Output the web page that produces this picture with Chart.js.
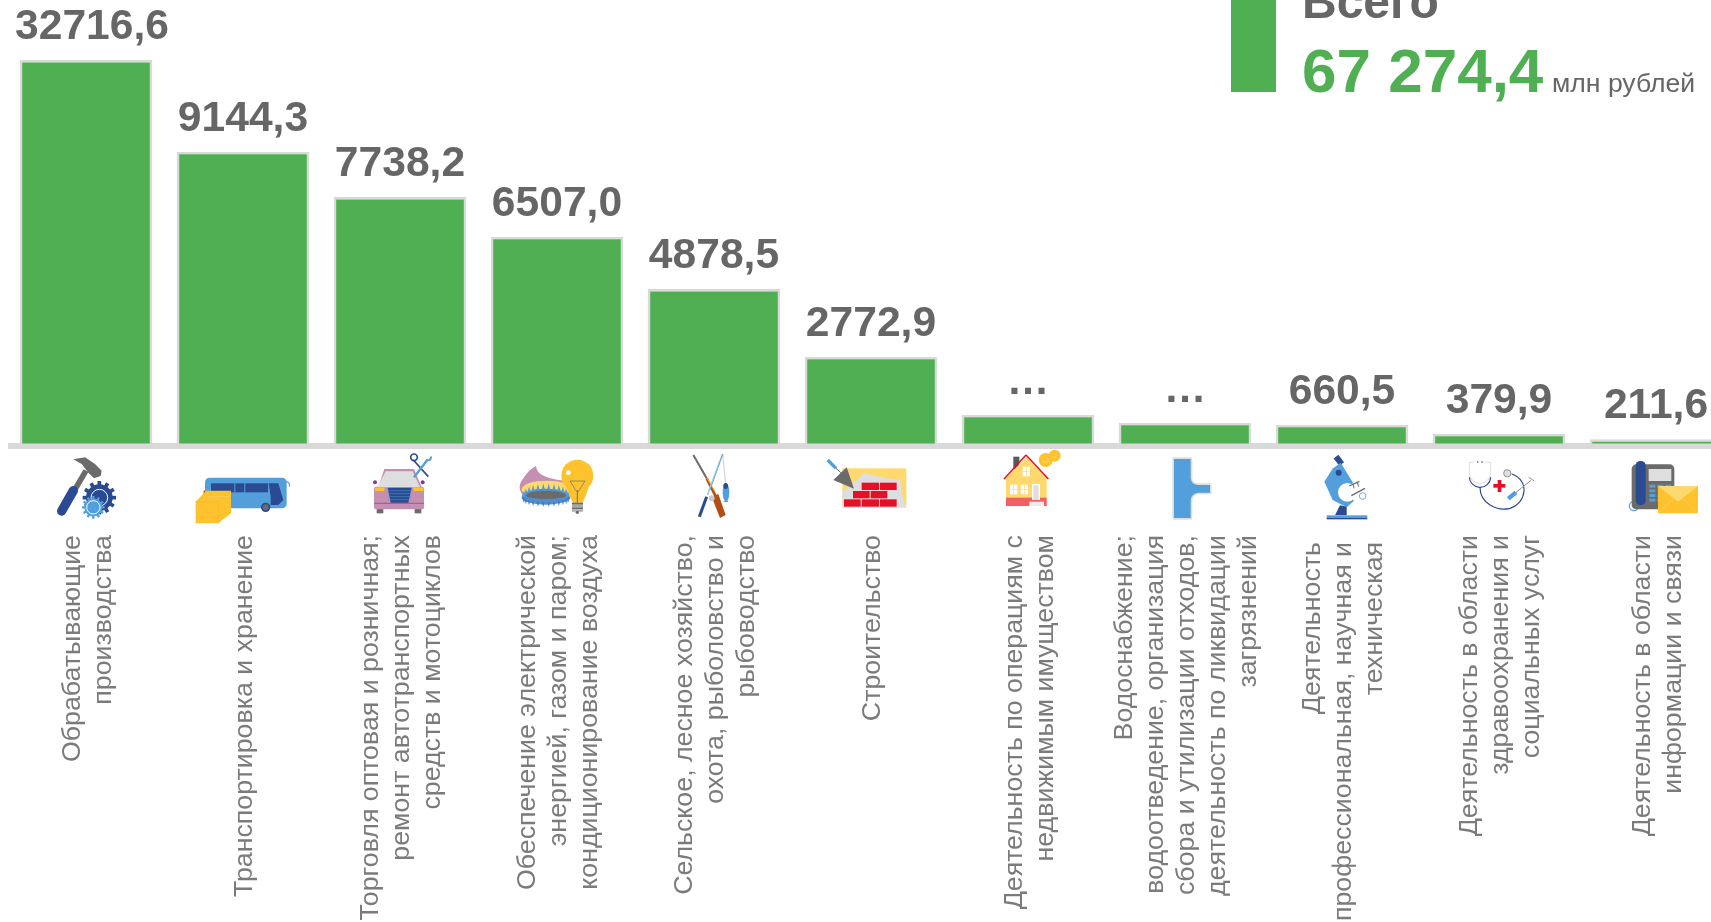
<!DOCTYPE html>
<html lang="ru">
<head>
<meta charset="utf-8">
<title>Chart</title>
<style>
html,body{margin:0;padding:0;width:1711px;height:922px;overflow:hidden;background:#fff}
canvas{position:absolute;left:0;top:0}
</style>
<script src="https://cdn.jsdelivr.net/npm/chart.js@4"></script>
</head>
<body>
<canvas id="c" width="1740" height="922" style="width:1740px;height:922px"></canvas>
<script>
const categories = [
  ["Обрабатывающие","производства"],
  ["Транспортировка и хранение"],
  ["Торговля оптовая и розничная;","ремонт автотранспортных","средств и мотоциклов"],
  ["Обеспечение электрической","энергией, газом и паром;","кондиционирование воздуха"],
  ["Сельское, лесное хозяйство,","охота, рыболовство и","рыбоводство"],
  ["Строительство"],
  ["Деятельность по операциям с","недвижимым имуществом"],
  ["Водоснабжение;","водоотведение, организация","сбора и утилизации отходов,","деятельность по ликвидации","загрязнений"],
  ["Деятельность","профессиональная, научная и","техническая"],
  ["Деятельность в области","здравоохранения и","социальных услуг"],
  ["Деятельность в области","информации и связи"]
];
// values as read; the two hidden values ("…") are estimated from their bar heights
const values = [32716.6, 9144.3, 7738.2, 6507.0, 4878.5, 2772.9, 970, 720, 660.5, 379.9, 211.6];
const valueLabels = ["32716,6","9144,3","7738,2","6507,0","4878,5","2772,9","…","…","660,5","379,9","211,6"];
// the reference truncates the tallest bar: the value axis ends here
const axisCap = 12000;
const totalTitle = "Всего";
const totalValue = "67 274,4";
const totalUnit = "млн рублей";

const GREEN = "#4FAF52", GREY_TXT = "#666666", LABEL_TXT = "#7b7b7b", RULE = "#d9d9d9";
const NAVY="#2a4a91", BLUE="#539fdb", YEL="#fec22e", LYEL="#ffd96e", PINK="#c48fb0", RED="#e60f27", DG="#6b6b6b", LG="#dedede";
const LABEL_STRETCH=1.07;

let g;
function poly(col,p){g.fillStyle=col;g.beginPath();for(let i=0;i<p.length;i+=2){i?g.lineTo(p[i],p[i+1]):g.moveTo(p[i],p[i+1]);}g.closePath();g.fill();}
function ln(col,w,x1,y1,x2,y2,cap){g.strokeStyle=col;g.lineWidth=w;g.lineCap=cap||"butt";g.beginPath();g.moveTo(x1,y1);g.lineTo(x2,y2);g.stroke();}
function circ(col,x,y,r){g.fillStyle=col;g.beginPath();g.arc(x,y,r,0,7);g.fill();}
function ring(col,w,x,y,r,a,b){g.strokeStyle=col;g.lineWidth=w;g.lineCap="butt";g.beginPath();g.arc(x,y,r,a===undefined?0:a,b===undefined?7:b);g.stroke();}
function box(col,x,y,w,h){g.fillStyle=col;g.fillRect(x,y,w,h);}
function rbox(col,x,y,w,h,r){g.fillStyle=col;g.beginPath();g.roundRect(x,y,w,h,r);g.fill();}
function ell(col,x,y,a,b){g.fillStyle=col;g.beginPath();g.ellipse(x,y,a,b,0,0,7);g.fill();}
function gear(col,x,y,r,n,tw){circ(col,x,y,r*0.8);for(let i=0;i<n;i++){const t=i/n*Math.PI*2;ln(col,tw,x,y,x+Math.cos(t)*r,y+Math.sin(t)*r);}}

// each icon is drawn in a 3x local grid, placed under its category tick
const icons = [
 [-56, ()=>{
   poly(DG,[130,28,165,22,195,42,215,62,212,78,192,85,175,68,155,42]);
   ln(DG,17,168,62,135,118);
   ln(NAVY,28,130,122,95,183,"round");
   gear(NAVY,208,143,50,12,11);
   ring("#fff",3,208,143,25);
   gear(BLUE,190,172,34,12,7);
   ring("#fff",3,190,172,20);circ(BLUE,190,172,11);
 }],
 [-213, ()=>{
   rbox(BLUE,525,83,245,92,14);
   box(NAVY,543,100,70,27);box(NAVY,616,100,27,27);box(NAVY,646,100,68,27);
   poly(NAVY,[716,100,745,100,760,150,745,165,722,165,722,140]);
   ring(BLUE,4,765,108,14,-1.6,0.1);
   circ(NAVY,707,172,14);circ(DG,707,172,9);
   box(RED,521,122,4,10);
   poly(YEL,[497,155,528,122,603,122,603,190,565,220,497,220]);
   ln("#f1b428",1.5,565,155,565,220);ln("#f1b428",1.5,497,155,565,155);ln("#f1b428",1.5,565,155,603,122);ln("#fbd46a",2,530,140,600,140);
 }],
 [-50, ()=>{
   box(DG,80,176,20,14);box(DG,194,176,20,14);
   circ("#7d3f96",75,97,6);circ("#7d3f96",218,97,6);
   poly(PINK,[85,112,103,57,192,57,215,112]);
   rbox(PINK,72,110,150,68,6);
   poly(LG,[82,112,107,64,188,64,210,112]);
   box(YEL,75,113,28,10);box(YEL,190,113,30,10);
   poly(NAVY,[113,113,185,113,175,158,122,158]);
   for(let y=122;y<158;y+=9)ln(BLUE,1.5,114,y,184,y);
   ln("#7d3f96",2,73,160,222,160);
   ln(NAVY,5,190,30,235,80);ring(NAVY,5,192,22,10);
   ln(BLUE,7,192,82,232,30);ring(BLUE,6,234,22,9,-0.3,2.3);
 }],
 [-207, ()=>{
   g.fillStyle=PINK;g.beginPath();g.moveTo(558,48);g.quadraticCurveTo(560,85,645,92);g.lineTo(655,150);g.lineTo(540,155);g.quadraticCurveTo(490,120,520,85);g.quadraticCurveTo(535,60,558,48);g.fill();
   ell(LYEL,590,118,75,26);
   ell("#4f8fd0",587,140,72,24);
   ell(DG,588,135,62,12);
   for(let i=0;i<14;i++){const t=Math.PI+i/13*Math.PI,x=588+Math.cos(t)*68,y=132+Math.sin(t)*28;poly(BLUE,[x-5,y+14,x,y-4,x+5,y+14]);}
   for(let i=0;i<14;i++){const t=i/13*Math.PI,x=588+Math.cos(t)*68,y=145+Math.sin(t)*16;poly("#3f7cc4",[x-4,y-4,x,y+10,x+4,y-4]);}
   poly(YEL,[650,112,660,140,668,158,698,158,706,140,716,112]);
   circ(YEL,682,77,48);
   for(let i=0;i<4;i++)box(i%2?"#a9a9a9":DG,666,158+i*7,33,6);
   circ(DG,682,187,5);
   circ("#fff",655,68,7);
   ln(DG,2,660,93,705,93);ln(DG,2,660,93,680,125);ln(DG,2,705,93,685,125);ln(DG,3,682,120,682,158);
 }],
 [-44, ()=>{
   ln(DG,6,70,15,110,85);
   ln("#b34e14",8,110,85,140,145);
   ln(YEL,3,112,85,138,130);
   poly("#b34e14",[125,140,145,132,167,195,150,204]);
   ln("#9cc9ea",5,158,12,112,135);
   ln(BLUE,2,158,12,120,120);
   ln(NAVY,9,110,140,88,200);
   circ("#c9c9c9",125,145,9);
   ln("#999",1.5,158,12,167,100);
   ell(BLUE,168,127,10,27);
   ell(NAVY,167,108,7,9);
   poly(BLUE,[168,148,160,156,176,156]);
 }],
 [-201, ()=>{
   box(LYEL,517,55,192,118);
   poly(LG,[517,125,560,90,580,70,620,78,650,85,690,90,700,150,708,172,517,172]);
   for(const [x,y,w] of [[575,98,52],[630,98,50],[549,123,50],[602,123,50],[522,148,50],[575,148,52],[630,148,50]])box(RED,x,y,w,22);
   poly(DG,[530,52,490,90,552,116]);
   ln(BLUE,10,473,30,498,55);
   ln(DG,3,498,55,515,70);
 }],
 [-48, ()=>{
   box("#595959",100,20,18,38);
   poly(LYEL,[78,85,138,22,200,85,200,168,78,168]);
   box("#ef6067",78,143,122,25);
   ln(RED,4.5,72,87,138,15);ln(RED,4.5,138,15,205,87);
   for(const [x,y] of [[128,50],[90,104],[122,104]]){box("#fff",x,y,22,29);box(LYEL,x+10,y,2,29);box(LYEL,x,y+13,22,2);}
   box("#fff",156,102,24,48);box(LG,160,106,16,44);
   box("#ececec",148,155,44,13);
   circ(YEL,224,17,18);circ(YEL,197,30,21);
   ring("#ffe08a",2,197,30,8,-1.6,3);ring("#ffe08a",2,224,17,6,-1.6,3);
 }],
 [-205, ()=>{
   const pipe=()=>{g.beginPath();g.moveTo(582,27);g.lineTo(632,27);g.lineTo(632,85);g.quadraticCurveTo(634,105,655,105);g.lineTo(690,105);g.lineTo(690,128);g.lineTo(655,128);g.quadraticCurveTo(634,130,632,150);g.lineTo(632,204);g.lineTo(582,204);g.closePath();};
   g.strokeStyle=LG;g.lineWidth=10;g.lineJoin="round";pipe();g.stroke();
   g.fillStyle=BLUE;pipe();g.fill();
 }],
 [-52, ()=>{
   ln(NAVY,18,138,20,155,42);
   poly(BLUE,[152,38,190,100,165,112,125,58]);
   poly(BLUE,[125,60,165,85,195,150,170,172,128,150,103,95]);
   circ("#fff",172,127,28);
   poly("#fff",[185,103,225,118,210,150,190,152]);
   circ(NAVY,146,68,9);
   ln(DG,4,178,108,208,94);ln(DG,3,190,104,192,115);ln(DG,3,202,98,206,110);
   ln(DG,4,184,137,225,115);
   ring(BLUE,2.5,218,138,10);
   poly(NAVY,[135,196,150,166,170,170,170,196]);
   box(BLUE,110,196,122,8);box(NAVY,110,204,122,4);
 }],
 [-209, ()=>{
   g.lineJoin="round";
   ring(LG,3,570,68,32,0,Math.PI);
   ln(LG,3,538,38,538,68);ln(LG,3,602,38,602,68);
   ln(LG,3,538,38,552,36);ln(LG,3,602,38,588,36);
   circ(NAVY,563,36,2.5);circ(NAVY,576,36,2.5);
   ring(NAVY,3.5,570,80,32,0.05,Math.PI-0.05);
   g.strokeStyle=NAVY;g.lineWidth=3.5;g.beginPath();g.moveTo(570,112);g.bezierCurveTo(570,160,620,185,660,175);g.bezierCurveTo(710,160,720,90,665,72);g.stroke();
   circ(LG,652,70,11);ring("#8f8f8f",3,652,70,11);
   box(RED,610,102,36,11);box(RED,623,90,11,36);
   ln(LG,1.5,637,162,655,148);
   ln(BLUE,13,655,146,678,127);
   ln("#8f8f8f",3,678,127,722,92);
   ln("#8f8f8f",3,716,82,732,92);
 }],
 [-366, ()=>{
   ring(BLUE,3.5,1032,168,14);
   rbox(DG,1025,43,128,135,14);
   box(LG,1076,57,68,36);
   for(let r=0;r<4;r++)for(let c=0;c<3;c++)box(BLUE,1078+c*24,104+r*14,18,9);
   rbox(NAVY,1037,33,30,132,14);
   box(YEL,1104,108,120,82);
   poly(LYEL,[1104,108,1224,108,1164,155]);
   ln("#ffd96e",1.5,1104,190,1150,145);ln("#ffd96e",1.5,1224,190,1178,145);
 }]
];

const decorations = {
  id:"decorations",
  afterDraw(chart){
    const ctx=chart.ctx, x=chart.scales.x;
    g=ctx;
    // trim the axis rule's end cap so that it starts where the reference's does
    ctx.fillStyle="#fff";ctx.fillRect(0,440,8,12);
    // value labels above the bars
    ctx.save();
    ctx.font="bold 42.6px 'Liberation Sans'";
    ctx.fillStyle=GREY_TXT;ctx.textAlign="center";ctx.textBaseline="alphabetic";
    chart.getDatasetMeta(0).data.forEach((bar,i)=>{
      ctx.fillText(valueLabels[i],bar.x+(i===0?6:0),bar.y-21);
    });
    ctx.restore();
    // category labels: rotated, line ends aligned at the top, block centred on its tick
    ctx.save();
    ctx.font="25px 'Liberation Sans'";
    ctx.fillStyle=LABEL_TXT;ctx.textBaseline="middle";ctx.textAlign="right";
    const lineH=31, top=535;
    categories.forEach((lines,i)=>{
      const cx=x.getPixelForTick(i)+2.5;
      lines.forEach((s,k)=>{
        ctx.save();
        ctx.translate(cx+(k-(lines.length-1)/2)*lineH, top+(i===8?7:0));
        ctx.rotate(-Math.PI/2);
        ctx.scale(LABEL_STRETCH,1);
        ctx.fillText(s,0,0);
        ctx.restore();
      });
    });
    ctx.restore();
    // icons
    icons.forEach(([off,draw],i)=>{
      ctx.save();
      ctx.translate(x.getPixelForTick(i)+off,450);
      ctx.scale(1/3,1/3);
      draw();
      ctx.restore();
    });
    // total block
    ctx.save();
    ctx.fillStyle=GREEN;ctx.fillRect(1231,0,45,92);
    ctx.textBaseline="alphabetic";ctx.textAlign="left";
    ctx.fillStyle=GREY_TXT;ctx.font="bold 48px 'Liberation Sans'";ctx.fillText(totalTitle,1302,18);
    ctx.fillStyle=GREEN;ctx.font="bold 62px 'Liberation Sans'";ctx.fillText(totalValue,1302,92);
    ctx.fillStyle=GREY_TXT;ctx.font="26.6px 'Liberation Sans'";ctx.fillText(totalUnit,1552,92);
    ctx.restore();
  }
};

new Chart(document.getElementById("c"),{
  type:"bar",
  data:{
    labels:categories.map(l=>l.join(" ")),
    datasets:[{
      data:values.map(v=>Math.min(v,axisCap)),
      backgroundColor:GREEN,
      borderColor:RULE,
      borderWidth:2.5,
      borderSkipped:false,
      barPercentage:0.845,
      categoryPercentage:1
    }]
  },
  options:{
    responsive:false,
    animation:false,
    layout:{padding:{left:7.5,right:5.5,top:60,bottom:476}},
    plugins:{legend:{display:false},title:{display:false},tooltip:{enabled:false}},
    scales:{
      x:{
        z:1,
        grid:{display:false,drawTicks:false},
        border:{display:true,color:RULE,width:6},
        ticks:{display:false}
      },
      y:{display:false,min:0,max:axisCap}
    }
  },
  plugins:[decorations]
});
</script>
</body>
</html>
